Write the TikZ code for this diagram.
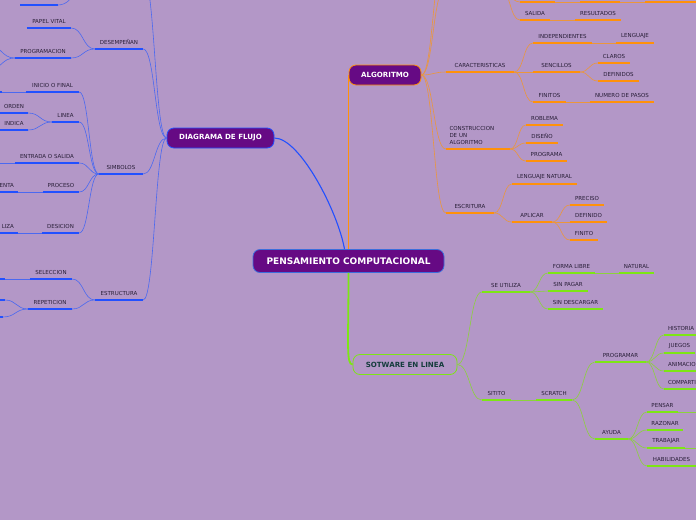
\documentclass[tikz,border=0pt]{standalone}
\usepackage{fontspec}
\setmainfont{DejaVu Sans}
\usetikzlibrary{calc}
\definecolor{bgc}{RGB}{179,151,199}
\definecolor{bU}{RGB}{34,80,255}
\definecolor{bC}{RGB}{75,105,240}
\definecolor{oU}{RGB}{255,145,10}
\definecolor{oC}{RGB}{235,150,60}
\definecolor{gU}{RGB}{125,230,20}
\definecolor{gC}{RGB}{140,210,60}
\definecolor{nf}{RGB}{102,10,132}
\definecolor{tx}{RGB}{40,30,55}
\definecolor{swc}{RGB}{20,60,60}
\definecolor{pcb}{RGB}{60,110,220}
\tikzset{
  lbltxt/.style={font=\fontsize{5.5}{6.6}\selectfont, text=tx, inner xsep=0pt, inner ysep=4.2pt, anchor=south},
  mm/.style={to path={let \p1=(\tikztostart), \p2=(\tikztotarget) in
     .. controls ({0.5*\x1+0.5*\x2},\y1) and ({0.5*\x1+0.5*\x2},\y2) .. (\tikztotarget)}},
  bconn/.style={draw=bC, line width=0.6pt, mm},
  oconn/.style={draw=oC, line width=0.6pt, mm},
  gconn/.style={draw=gC, line width=0.6pt, mm},
  ulb/.style={draw=bU, line width=1.6pt},
  ulo/.style={draw=oU, line width=1.6pt},
  ulg/.style={draw=gU, line width=1.6pt},
  topic/.style={rounded corners=7pt, fill=nf, text=white, line width=0.8pt, inner sep=0pt,
     font=\fontsize{7.1}{8}\selectfont\bfseries, minimum height=20pt},
}
\newcommand\mlab[7][]{%
  \node[lbltxt, minimum width={(#4)-(#3)}, #1] (#2) at ({((#3)+(#4))/2},#5) {#7};
  \draw[#6] (#2.south west) -- (#2.south east);}
\begin{document}
\begin{tikzpicture}[x=1pt,y=-1pt]
\useasboundingbox (0,0) rectangle (696,520);
\fill[bgc] (0,0) rectangle (696,520);
\begin{scope}
\clip (0,0) rectangle (696,520);
% ---------- main topics ----------
\node[topic, draw=pcb, minimum width=191pt, minimum height=23pt,
      font=\fontsize{9}{10}\selectfont\bfseries] (pc) at (348.5,261) {PENSAMIENTO COMPUTACIONAL};
\node[topic, draw=bU, minimum width=107pt] (diag) at (220.5,138) {DIAGRAMA DE FLUJO};
\node[topic, draw=oU, minimum width=72pt] (alg) at (385,75) {ALGORITMO};
\node[topic, fill=none, draw=gU, text=swc, minimum width=104pt] (soft) at (405,364.5) {SOTWARE EN LINEA};
\draw[draw=bU, line width=1.1pt] ([xshift=-4pt]pc.north) .. controls (338,212) and (300,138) .. (diag.east);
\draw[draw=oU, line width=1.8pt] (pc.north) -- (pc.north |- alg.west);
\draw[draw=gU, line width=1.8pt] (pc.south) .. controls (348.5,345) and (346,364.5) .. (soft.west);
% ---------- blue branch ----------
\mlab{desemp}{95}{143}{49}{ulb}{DESEMPEÑAN}
\mlab{papel}{27}{71}{28}{ulb}{PAPEL VITAL}
\mlab{program}{15}{71}{58}{ulb}{PROGRAMACION}
\mlab{simb}{99}{143}{174}{ulb}{SIMBOLOS}
\mlab{inicio}{26}{79}{92}{ulb}{INICIO O FINAL}
\mlab{linea}{52}{79}{122}{ulb}{LINEA}
\mlab{orden}{0}{28}{113}{ulb}{ORDEN}
\mlab{indica}{0}{28}{130}{ulb}{INDICA}
\mlab{entrada}{15}{79}{163}{ulb}{ENTRADA O SALIDA}
\mlab{proceso}{43}{79}{192}{ulb}{PROCESO}
\mlab[text width=32pt, align=right]{enta}{-22}{18}{192}{ulb}{ENTA}
\mlab{desic}{42}{79}{233}{ulb}{DESICION}
\mlab[text width=32pt, align=right]{liza}{-22}{18}{233}{ulb}{LIZA}
\mlab{estr}{95}{143}{300}{ulb}{ESTRUCTURA}
\mlab{selec}{30}{72}{279}{ulb}{SELECCION}
\mlab{repet}{28}{72}{309}{ulb}{REPETICION}
\coordinate (btop) at (143,-25);
\coordinate (btopw) at (95,-25);
\coordinate (tlul) at (58,5);
\draw[ulb] (20,5) -- (tlul);
\coordinate (pgA) at (-12,45);
\coordinate (pgB) at (-12,70);
\coordinate (inicioC) at (2,92);
\draw[ulb] (-40,92) -- (inicioC);
\coordinate (entC) at (-5,163);
\coordinate (selC) at (5,279);
\draw[ulb] (-30,279) -- (selC);
\coordinate (repA) at (5,300);
\coordinate (repB) at (3,317);
\draw[ulb] (-30,300) -- (repA);
\draw[ulb] (-30,317) -- (repB);
\draw[bconn] (diag.west) to (btop);
\draw[bconn] (btopw) to (tlul);
\draw[bconn] (diag.west) to (desemp.south east);
\draw[bconn] (diag.west) to (simb.south east);
\draw[bconn] (diag.west) to (estr.south east);
\draw[bconn] (desemp.south west) to (papel.south east);
\draw[bconn] (desemp.south west) to (program.south east);
\draw[bconn] (program.south west) to (pgA);
\draw[bconn] (program.south west) to (pgB);
\draw[bconn] (simb.south west) to (inicio.south east);
\draw[bconn] (simb.south west) to (linea.south east);
\draw[bconn] (simb.south west) to (entrada.south east);
\draw[bconn] (simb.south west) to (proceso.south east);
\draw[bconn] (simb.south west) to (desic.south east);
\draw[bconn] (inicio.south west) to (inicioC);
\draw[bconn] (linea.south west) to (orden.south east);
\draw[bconn] (linea.south west) to (indica.south east);
\draw[bconn] (entrada.south west) to (entC);
\draw[bconn] (proceso.south west) to (enta.south east);
\draw[bconn] (desic.south west) to (liza.south east);
\draw[bconn] (estr.south west) to (selec.south east);
\draw[bconn] (estr.south west) to (repet.south east);
\draw[bconn] (selec.south west) to (selC);
\draw[bconn] (repet.south west) to (repA);
\draw[bconn] (repet.south west) to (repB);
% ---------- orange branch ----------
\mlab{salida}{520}{550}{20}{ulo}{SALIDA}
\mlab{result}{575}{621}{20}{ulo}{RESULTADOS}
\mlab{caract}{446}{514}{72}{ulo}{CARACTERISTICAS}
\mlab{indep}{533}{592}{43}{ulo}{INDEPENDIENTES}
\mlab{leng}{616}{654}{43}{ulo}{LENGUAJE}
\mlab{senc}{533}{580}{72}{ulo}{SENCILLOS}
\mlab{claros}{598}{630}{63}{ulo}{CLAROS}
\mlab{defin}{598}{639}{81}{ulo}{DEFINIDOS}
\mlab{finit}{533}{566}{102}{ulo}{FINITOS}
\mlab{numero}{590}{654}{102}{ulo}{NUMERO DE PASOS}
\mlab[text width=57pt, align=left, font=\fontsize{5.5}{6.8}\selectfont]{constr}{446}{510}{149}{ulo}{CONSTRUCCION\\DE UN\\ALGORITMO}
\mlab{robl}{526}{563}{125}{ulo}{ROBLEMA}
\mlab{diseno}{526}{558}{143}{ulo}{DISEÑO}
\mlab{progr}{526}{567}{161}{ulo}{PROGRAMA}
\mlab{escrit}{446}{494}{213}{ulo}{ESCRITURA}
\mlab{lnat}{512}{577}{184}{ulo}{LENGUAJE NATURAL}
\mlab{aplic}{512}{552}{222}{ulo}{APLICAR}
\mlab{precis}{570}{604}{205}{ulo}{PRECISO}
\mlab{defdo}{570}{607}{222}{ulo}{DEFINIDO}
\mlab{finito}{570}{598}{240}{ulo}{FINITO}
\coordinate (oc1) at (445,-12);
\coordinate (oc1e) at (500,-12);
\coordinate (oc2) at (445,-45);
\coordinate (topA) at (520,2);
\coordinate (topAe) at (555,2);
\coordinate (topB) at (580,2);
\coordinate (topBe) at (620,2);
\coordinate (topC) at (645,2);
\draw[ulo] (topA) -- (topAe);
\draw[ulo] (topB) -- (topBe);
\draw[ulo] (topC) -- (720,2);
\draw[oconn] (topAe) -- (topB);
\draw[oconn] (topBe) -- (topC);
\draw[oconn] (alg.east) to (oc1);
\draw[oconn] (alg.east) to (oc2);
\draw[oconn] (oc1e) to (topA);
\draw[oconn] (oc1e) to (salida.south west);
\draw[oconn] (salida.south east) to (result.south west);
\draw[oconn] (alg.east) to (caract.south west);
\draw[oconn] (alg.east) to (constr.south west);
\draw[oconn] (alg.east) to (escrit.south west);
\draw[oconn] (caract.south east) to (indep.south west);
\draw[oconn] (caract.south east) to (senc.south west);
\draw[oconn] (caract.south east) to (finit.south west);
\draw[oconn] (indep.south east) to (leng.south west);
\draw[oconn] (senc.south east) to (claros.south west);
\draw[oconn] (senc.south east) to (defin.south west);
\draw[oconn] (finit.south east) to (numero.south west);
\draw[oconn] (constr.south east) to (robl.south west);
\draw[oconn] (constr.south east) to (diseno.south west);
\draw[oconn] (constr.south east) to (progr.south west);
\draw[oconn] (escrit.south east) to (lnat.south west);
\draw[oconn] (escrit.south east) to (aplic.south west);
\draw[oconn] (aplic.south east) to (precis.south west);
\draw[oconn] (aplic.south east) to (defdo.south west);
\draw[oconn] (aplic.south east) to (finito.south west);
% ---------- green branch ----------
\mlab{seut}{482}{530}{292}{ulg}{SE UTILIZA}
\mlab{forma}{548}{595}{273}{ulg}{FORMA LIBRE}
\mlab{natural}{619}{654}{273}{ulg}{NATURAL}
\mlab{sinpag}{548}{588}{291}{ulg}{SIN PAGAR}
\mlab{sindes}{548}{603}{309}{ulg}{SIN DESCARGAR}
\mlab{sitito}{482}{511}{400}{ulg}{SITITO}
\mlab{scratch}{536}{572}{400}{ulg}{SCRATCH}
\mlab{progm}{595}{646}{362}{ulg}{PROGRAMAR}
\mlab[text width=58pt, align=left]{hist}{664}{730}{335}{ulg}{HISTORIA}
\mlab{jueg}{664}{695}{353}{ulg}{JUEGOS}
\mlab[text width=58pt, align=left]{anim}{664}{730}{371}{ulg}{ANIMACIO}
\mlab[text width=58pt, align=left]{comp}{664}{730}{389}{ulg}{COMPARTI}
\mlab{ayuda}{595}{628}{439}{ulg}{AYUDA}
\mlab{pens}{647}{678}{412}{ulg}{PENSAR}
\mlab{razo}{647}{683}{430}{ulg}{RAZONAR}
\mlab{trab}{647}{685}{448}{ulg}{TRABAJAR}
\mlab{habi}{647}{696}{466}{ulg}{HABILIDADES}
\coordinate (pensC) at (710,412);
\coordinate (trabC) at (710,448);
\draw[gconn] (soft.east) to (seut.south west);
\draw[gconn] (soft.east) to (sitito.south west);
\draw[gconn] (seut.south east) to (forma.south west);
\draw[gconn] (seut.south east) to (sinpag.south west);
\draw[gconn] (seut.south east) to (sindes.south west);
\draw[gconn] (forma.south east) to (natural.south west);
\draw[gconn] (sitito.south east) to (scratch.south west);
\draw[gconn] (scratch.south east) to (progm.south west);
\draw[gconn] (scratch.south east) to (ayuda.south west);
\draw[gconn] (progm.south east) to (hist.south west);
\draw[gconn] (progm.south east) to (jueg.south west);
\draw[gconn] (progm.south east) to (anim.south west);
\draw[gconn] (progm.south east) to (comp.south west);
\draw[gconn] (ayuda.south east) to (pens.south west);
\draw[gconn] (ayuda.south east) to (razo.south west);
\draw[gconn] (ayuda.south east) to (trab.south west);
\draw[gconn] (ayuda.south east) to (habi.south west);
\draw[gconn] (pens.south east) -- (pensC);
\draw[gconn] (trab.south east) -- (trabC);
\end{scope}
\end{tikzpicture}
\end{document}
